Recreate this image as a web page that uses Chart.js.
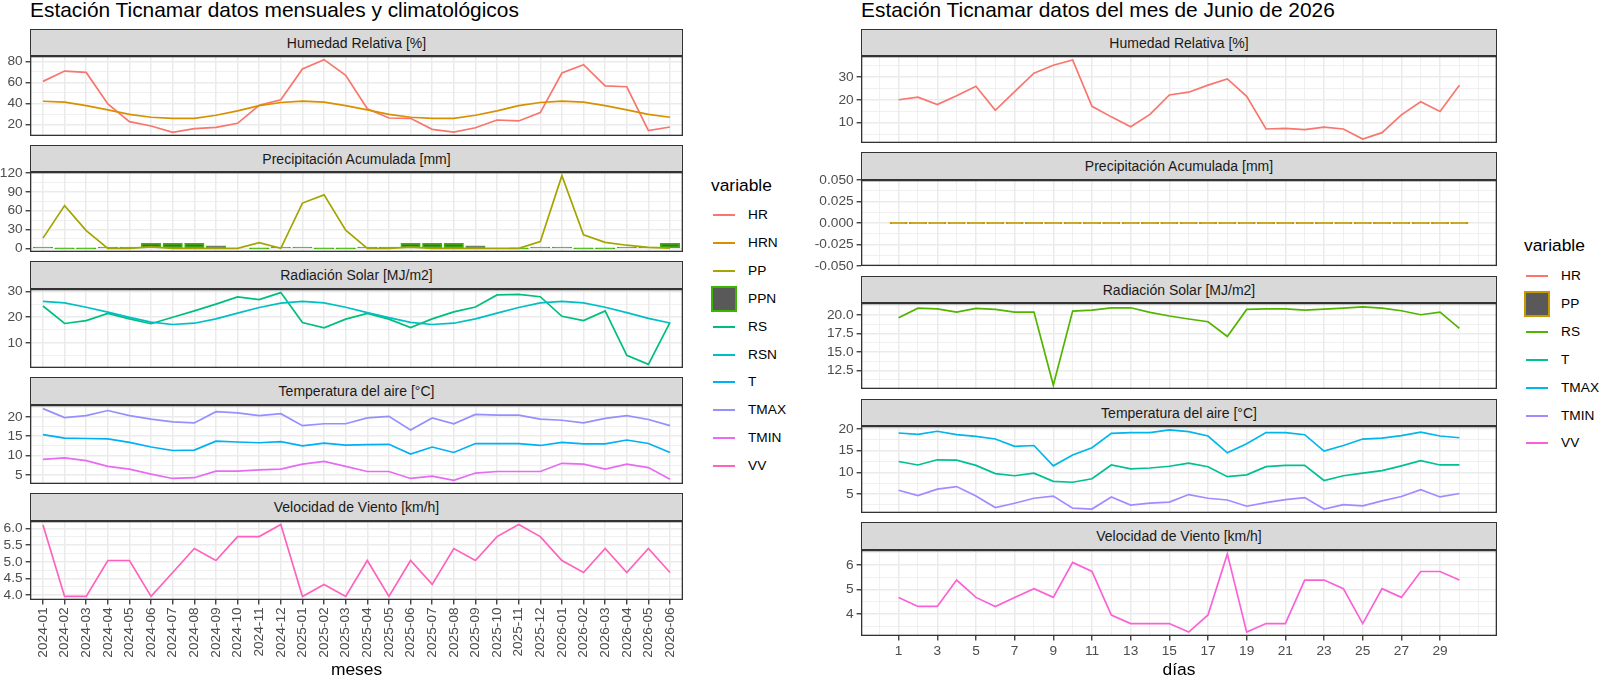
<!DOCTYPE html>
<html><head><meta charset="utf-8">
<script src="https://cdn.jsdelivr.net/npm/chart.js@4.4.1/dist/chart.umd.min.js"></script>
<style>
html,body{margin:0;padding:0;background:#fff;}
body{width:1600px;height:676px;position:relative;overflow:hidden;font-family:"Liberation Sans",Arial,Helvetica,sans-serif;}
.strip{position:absolute;box-sizing:border-box;background:#D9D9D9;border:1.3px solid #333;font-size:14px;color:#1A1A1A;display:flex;align-items:center;justify-content:center;z-index:2;}
.ptitle{position:absolute;font-size:20.9px;line-height:21px;color:#000;white-space:nowrap;}
.ltitle{position:absolute;font-size:17.4px;line-height:20px;color:#000;white-space:nowrap;}
.llab{position:absolute;font-size:13.7px;line-height:16px;color:#000;white-space:nowrap;}
.lline{position:absolute;height:2px;width:22px;}
.lbox{position:absolute;width:26px;height:26px;box-sizing:border-box;background:#595959;border:2px solid;}
</style></head><body>
<script>
// ---------------- DATA ----------------
const MONTHS = ['2024-01','2024-02','2024-03','2024-04','2024-05','2024-06','2024-07','2024-08','2024-09','2024-10','2024-11','2024-12',
                '2025-01','2025-02','2025-03','2025-04','2025-05','2025-06','2025-07','2025-08','2025-09','2025-10','2025-11','2025-12',
                '2026-01','2026-02','2026-03','2026-04','2026-05','2026-06'];
const L_HR   = [61, 70.8, 69.5, 39.7, 22.9, 18.7, 12.7, 16.2, 17.5, 21.3, 38.4, 43.5, 72.7, 81.6, 66.7, 35, 26.3, 26, 15.6, 13, 17.1, 24.4, 23.5, 31.4, 68.9, 76.8, 56.8, 55.9, 14.3, 17.8];
const L_HRN  = [42.2, 41.3, 38, 34, 29.8, 27, 26, 26, 28.9, 33, 38, 41, 42.2, 41.3, 38, 34, 29.8, 27, 26, 26, 28.9, 33, 38, 41, 42.2, 41.3, 38, 34, 29.8, 27];
const L_PP   = [16.3, 68, 28.3, 0, 0, 2.5, 0, 0, 0, 0, 9, 0, 72, 85, 29, 0, 0, 2, 0, 0, 0, 0, 0, 10.7, 115.6, 21.5, 9.5, 5, 1.5, 0.5];
const L_PPN  = [1.6, 0, 0, 1, 1.6, 8.1, 8.1, 8.1, 4.2, null, 0, 0.5, 1.6, 0, 0, 1, 1.6, 8.1, 8.1, 8.1, 4.2, null, 0, 0.5, 1.6, 0, 0, 1, 1.6, 8.1];
const L_RS   = [24.3, 17.5, 18.6, 21.4, 19.3, 17.4, 19.9, 22.4, 25, 27.8, 26.8, 29.5, 17.9, 15.8, 19.2, 21.4, 19.2, 15.9, 19.3, 22, 23.9, 28.6, 28.8, 27.9, 20.3, 18.6, 22.4, 5.1, 1.6, 17.9];
const L_RSN  = [26.1, 25.5, 23.8, 21.9, 19.9, 18, 17.1, 17.6, 19.3, 21.5, 23.7, 25.4, 26.1, 25.5, 23.8, 21.7, 19.8, 17.9, 17.1, 17.6, 19.3, 21.5, 23.7, 25.5, 26.1, 25.5, 23.8, 21.7, 19.5, 17.7];
const L_TMAX = [22.1, 19.8, 20.3, 21.6, 20.3, 19.4, 18.7, 18.4, 21.3, 21, 20.3, 20.8, 17.7, 18.2, 18.2, 19.7, 20.1, 16.6, 19.7, 18.2, 20.6, 20.4, 20.4, 19.4, 19.1, 18.4, 19.6, 20.3, 19.3, 17.7];
const L_T    = [15.4, 14.5, 14.4, 14.3, 13.4, 12.2, 11.3, 11.4, 13.7, 13.5, 13.3, 13.6, 12.5, 13.2, 12.7, 12.8, 12.9, 10.4, 12.2, 10.8, 13.1, 13.1, 13.1, 12.6, 13.4, 13, 13, 14, 13.1, 10.8];
const L_TMIN = [9, 9.4, 8.7, 7.2, 6.5, 5.2, 4.1, 4.3, 6, 6, 6.3, 6.5, 7.8, 8.5, 7.2, 5.9, 5.9, 4.1, 4.7, 3.6, 5.5, 5.9, 5.9, 5.9, 8, 7.8, 6.5, 7.8, 6.9, 3.9];
const L_VV   = [6.11, 3.96, 3.96, 5.04, 5.04, 3.96, 4.68, 5.4, 5.04, 5.76, 5.76, 6.12, 3.96, 4.32, 3.96, 5.04, 3.96, 5.04, 4.32, 5.4, 5.04, 5.76, 6.12, 5.76, 5.04, 4.68, 5.4, 4.68, 5.4, 4.68];

const DAYS   = [1,2,3,4,5,6,7,8,9,10,11,12,13,14,15,16,17,18,19,20,21,22,23,24,25,26,27,28,29,30];
const R_HR   = [20, 21.1, 17.9, 21.7, 25.9, 15.4, 23.5, 31.6, 35.1, 37.4, 17.1, 12.5, 8.2, 13.6, 22.1, 23.3, 26.4, 29.1, 21.5, 7.2, 7.5, 6.9, 8, 7.2, 2.8, 5.6, 13.4, 19.1, 14.9, 26.3];
const R_PP   = [0,0,0,0,0,0,0,0,0,0,0,0,0,0,0,0,0,0,0,0,0,0,0,0,0,0,0,0,0,0];
const R_RS   = [19.64, 20.93, 20.84, 20.4, 20.9, 20.76, 20.4, 20.4, 10.53, 20.53, 20.67, 20.98, 20.98, 20.36, 19.87, 19.47, 19.1, 17.1, 20.76, 20.84, 20.84, 20.67, 20.8, 20.93, 21.1, 20.93, 20.58, 20.04, 20.4, 18.2];
const R_TMAX = [19.1, 18.8, 19.5, 18.7, 18.3, 17.7, 16, 16.2, 11.5, 14, 15.7, 19, 19.2, 19.2, 19.8, 19.4, 18.4, 14.5, 16.6, 19.2, 19.2, 18.7, 14.9, 16.2, 17.7, 17.9, 18.5, 19.3, 18.4, 18];
const R_T    = [12.5, 11.7, 12.9, 12.8, 11.6, 9.7, 9.2, 9.8, 7.9, 7.7, 8.5, 11.7, 10.8, 11, 11.4, 12.1, 11.3, 9, 9.4, 11.3, 11.6, 11.6, 8.1, 9.2, 9.8, 10.4, 11.5, 12.7, 11.7, 11.7];
const R_TMIN = [5.85, 4.6, 6.1, 6.7, 4.5, 1.85, 2.85, 4, 4.5, 1.7, 1.5, 4.3, 2.4, 2.85, 3.1, 4.85, 4, 3.6, 2.15, 3, 3.7, 4.15, 1.5, 2.5, 2.25, 3.4, 4.4, 6, 4.3, 5.1];
const R_VV   = [4.68, 4.31, 4.31, 5.39, 4.68, 4.31, 4.68, 5.04, 4.68, 6.11, 5.74, 3.96, 3.61, 3.61, 3.61, 3.26, 3.96, 6.46, 3.26, 3.61, 3.61, 5.39, 5.39, 5.04, 3.61, 5.04, 4.68, 5.74, 5.74, 5.39];

// tick labels
const L_HR_TICKS = [20,40,60,80];
const L_PP_TICKS = [0,30,60,90,120];
const L_RS_TICKS = [10,20,30];
const L_T_TICKS  = [5,10,15,20];
const L_VV_TICKS = [4.0,4.5,5.0,5.5,6.0];
const R_HR_TICKS = [10,20,30];
const R_PP_TICKS = [-0.05,-0.025,0,0.025,0.05];
const R_RS_TICKS = [12.5,15,17.5,20];
const R_T_TICKS  = [5,10,15,20];
const R_VV_TICKS = [4,5,6];
const R_DAY_TICKS = [1,3,5,7,9,11,13,15,17,19,21,23,25,27,29];

const TITLE_L = 'Estación Ticnamar datos mensuales y climatológicos';
const TITLE_R = 'Estación Ticnamar datos del mes de Junio de 2026';
const STRIPS_L = ['Humedad Relativa [%]','Precipitación Acumulada [mm]','Radiación Solar [MJ/m2]','Temperatura del aire [°C]','Velocidad de Viento [km/h]'];
const STRIPS_R = STRIPS_L;
const LEG_L = ['HR','HRN','PP','PPN','RS','RSN','T','TMAX','TMIN','VV'];
const LEG_R = ['HR','PP','RS','T','TMAX','TMIN','VV'];

// ---------------- STYLE ----------------
const FONT = '"Liberation Sans", Arial, Helvetica, sans-serif';
Chart.defaults.font.family = FONT;
const INK = '#333333', TXT = '#4D4D4D', GRID = '#EBEBEB', BARFILL = '#595959';
const COL_L = {HR:'#F8766D',HRN:'#D89000',PP:'#A3A500',PPN:'#39B600',RS:'#00BF7D',RSN:'#00BFC4',T:'#00B0F6',TMAX:'#9590FF',TMIN:'#E76BF3',VV:'#FF62BC'};
const COL_R = {HR:'#F8766D',PP:'#C49A00',RS:'#53B400',T:'#00C094',TMAX:'#00B6EB',TMIN:'#A58AFF',VV:'#FB61D7'};
const LW = 1.7;

const LAY = {
  L:{cL:0,   pL:30,  pR:683,  top0:29, stripH:27.3, panelH:79.2, cycle:116.1},
  R:{cL:790, pL:861, pR:1497, top0:29, stripH:27.3, panelH:86.3, cycle:123.3}
};

function expandRange(arrs){
  const all = [].concat(...arrs).filter(v => v !== null && v !== undefined);
  const lo = Math.min(...all), hi = Math.max(...all);
  if (hi - lo === 0) return [lo - 0.05, hi + 0.05];
  const d = (hi - lo) * 0.05;
  return [lo - d, hi + d];
}
function gridTicks(min, max, majors){
  const step = majors[1] - majors[0];
  const ext = [majors[0] - step, ...majors, majors[majors.length-1] + step];
  const eps = (max - min) * 1e-6;
  const inR = v => v >= min - eps && v <= max + eps;
  const out = [];
  ext.forEach((v, i) => {
    const isEnd = (i === 0 || i === ext.length - 1);
    if (inR(v)) out.push({value: v, isMaj: !isEnd});
    if (i < ext.length - 1) { const m = (v + ext[i+1]) / 2; if (inR(m)) out.push({value: m, isMaj: false}); }
  });
  return out.sort((a, b) => a.value - b.value);
}
const borderPlugin = {
  id: 'panelBorder',
  afterDatasetsDraw(c){
    const a = c.chartArea, x = c.ctx;
    x.save(); x.strokeStyle = INK; x.lineWidth = 1.3;
    x.strokeRect(a.left + 0.65, a.top + 0.65, a.right - a.left - 1.3, a.bottom - a.top - 1.3);
    x.restore();
  }
};
function lineDS(xs, ys, color){
  return {type:'line', data: xs.map((x, i) => ({x: x, y: ys[i]})), borderColor: color, backgroundColor: color,
          borderWidth: LW, pointRadius: 0, tension: 0, fill: false};
}
function barDS(xs, ys, border){
  return {type:'bar', data: xs.map((x, i) => ({x: x, y: ys[i]})), borderColor: border,
          // a bar thinner than its outline shows only the outline colour
          backgroundColor: ctx => {
            const ys = ctx.chart.scales.y, r = ctx.raw;
            if (!r || r.y === null || !ys) return BARFILL;
            const h = Math.abs(ys.getPixelForValue(r.y) - ys.getPixelForValue(0));
            return h < LW * 1.5 ? border : BARFILL;
          },
          borderWidth: LW, borderSkipped: false, barPercentage: 0.9, categoryPercentage: 1.0,
          minBarLength: 1.2, inflateAmount: 0.3};
}

function addPanel(o){
  const S = LAY[o.side];
  const sTop = Math.round(S.top0 + o.k * S.cycle);
  const pTop = Math.round(S.top0 + S.stripH + o.k * S.cycle);
  const pBot = Math.round(S.top0 + S.stripH + S.panelH + o.k * S.cycle);
  const st = document.createElement('div');
  st.className = 'strip';
  st.style.left = S.pL + 'px'; st.style.top = sTop + 'px';
  st.style.width = (S.pR - S.pL) + 'px'; st.style.height = (pTop - sTop) + 'px';
  st.textContent = o.strip;
  document.body.appendChild(st);

  const PADT = 12, PADR = 12;
  const cTop = pTop - PADT;
  const cBot = o.bottom ? 688 : pBot + 12;
  const padB = o.bottom ? 2 : 12;
  const box = document.createElement('div');
  box.style.cssText = `position:absolute;left:${S.cL}px;top:${cTop}px;width:${S.pR + PADR - S.cL}px;height:${cBot - cTop}px;z-index:1;`;
  const cv = document.createElement('canvas');
  box.appendChild(cv); document.body.appendChild(box);

  const [ymin, ymax] = o.range;
  const yt = gridTicks(ymin, ymax, o.yMajors);
  const xt = o.xTicks;
  const majC = (c, on, off) => (c.tick && c.tick.isMaj) ? on : off;

  new Chart(cv, {
    type: 'line',
    data: {datasets: o.datasets},
    options: {
      responsive: true, maintainAspectRatio: false, animation: false, events: [],
      layout: {padding: {left: 0, top: PADT, right: PADR, bottom: padB}},
      plugins: {legend: {display: false}, tooltip: {enabled: false}, title: {display: false}},
      scales: {
        x: {
          type: 'linear', min: o.xMin, max: o.xMax, offset: false,
          afterBuildTicks: s => { s.ticks = xt.map(t => Object.assign({}, t)); },
          afterFit: s => { s.height = o.bottom ? (cBot - padB - pBot) : 0; s.paddingLeft = 0; s.paddingRight = 0; },
          border: {display: false},
          grid: {offset: false, drawTicks: !!o.bottom, tickLength: 4.4, tickWidth: 1.3,
                 color: GRID, lineWidth: c => majC(c, 1.5, 0.75),
                 tickColor: c => majC(c, INK, 'rgba(0,0,0,0)')},
          ticks: {display: !!o.bottom, autoSkip: false, maxRotation: o.rot || 0, minRotation: o.rot || 0,
                  padding: 3, color: TXT, font: {size: 13.7},
                  callback: (v, i, ticks) => o.xLabel(ticks[i])},
          title: {display: !!o.bottom, text: o.xTitle || '', color: '#000', font: {size: 17.4}, padding: {top: 0, bottom: 5}}
        },
        y: {
          type: 'linear', min: ymin, max: ymax,
          afterBuildTicks: s => { s.ticks = yt.map(t => Object.assign({}, t)); },
          afterFit: s => { s.width = S.pL - S.cL; s.paddingTop = 0; s.paddingBottom = 0; },
          border: {display: false},
          grid: {drawTicks: true, tickLength: 4.4, tickWidth: 1.3,
                 color: GRID, lineWidth: c => majC(c, 1.5, 0.75),
                 tickColor: c => majC(c, INK, 'rgba(0,0,0,0)')},
          ticks: {autoSkip: false, padding: 3, color: TXT, font: {size: 13.7},
                  callback: (v, i, ticks) => ticks[i].isMaj ? ticks[i].value.toFixed(o.dec) : ''}
        }
      }
    },
    plugins: [borderPlugin]
  });
}

// ---------- titles ----------
function addText(cls, txt, left, top){ const d = document.createElement('div'); d.className = cls; d.textContent = txt; d.style.left = left + 'px'; d.style.top = top + 'px'; document.body.appendChild(d); return d; }
addText('ptitle', TITLE_L, 30, -1);
addText('ptitle', TITLE_R, 861, -1);

// ---------- left facets ----------
const LX = MONTHS.map((m, i) => i + 1);
const LXT = LX.map(v => ({value: v, isMaj: true}));
const leftCommon = {side: 'L', xMin: 0.4, xMax: MONTHS.length + 0.6, xTicks: LXT, xLabel: t => MONTHS[t.value - 1], rot: 90, xTitle: 'meses'};
addPanel(Object.assign({}, leftCommon, {k: 0, strip: STRIPS_L[0], range: expandRange([L_HR, L_HRN]), yMajors: L_HR_TICKS, dec: 0,
  datasets: [lineDS(LX, L_HRN, COL_L.HRN), lineDS(LX, L_HR, COL_L.HR)]}));
addPanel(Object.assign({}, leftCommon, {k: 1, strip: STRIPS_L[1], range: expandRange([L_PP, L_PPN, [0]]), yMajors: L_PP_TICKS, dec: 0,
  datasets: [lineDS(LX, L_PP, COL_L.PP), barDS(LX, L_PPN, COL_L.PPN)]}));
addPanel(Object.assign({}, leftCommon, {k: 2, strip: STRIPS_L[2], range: expandRange([L_RS, L_RSN]), yMajors: L_RS_TICKS, dec: 0,
  datasets: [lineDS(LX, L_RSN, COL_L.RSN), lineDS(LX, L_RS, COL_L.RS)]}));
addPanel(Object.assign({}, leftCommon, {k: 3, strip: STRIPS_L[3], range: expandRange([L_T, L_TMAX, L_TMIN]), yMajors: L_T_TICKS, dec: 0,
  datasets: [lineDS(LX, L_TMIN, COL_L.TMIN), lineDS(LX, L_TMAX, COL_L.TMAX), lineDS(LX, L_T, COL_L.T)]}));
addPanel(Object.assign({}, leftCommon, {k: 4, strip: STRIPS_L[4], range: expandRange([L_VV]), yMajors: L_VV_TICKS, dec: 1, bottom: true,
  datasets: [lineDS(LX, L_VV, COL_L.VV)]}));

// ---------- right facets ----------
const rx0 = DAYS[0] - 0.45, rx1 = DAYS[DAYS.length - 1] + 0.45, rpad = (rx1 - rx0) * 0.05;
const RXT = gridTicks(rx0 - rpad, rx1 + rpad, R_DAY_TICKS);
const rightCommon = {side: 'R', xMin: rx0 - rpad, xMax: rx1 + rpad, xTicks: RXT, xLabel: t => t.isMaj ? String(t.value) : '', rot: 0, xTitle: 'días'};
addPanel(Object.assign({}, rightCommon, {k: 0, strip: STRIPS_R[0], range: expandRange([R_HR]), yMajors: R_HR_TICKS, dec: 0,
  datasets: [lineDS(DAYS, R_HR, COL_R.HR)]}));
addPanel(Object.assign({}, rightCommon, {k: 1, strip: STRIPS_R[1], range: expandRange([R_PP]), yMajors: R_PP_TICKS, dec: 3,
  datasets: [barDS(DAYS, R_PP, COL_R.PP)]}));
addPanel(Object.assign({}, rightCommon, {k: 2, strip: STRIPS_R[2], range: expandRange([R_RS]), yMajors: R_RS_TICKS, dec: 1,
  datasets: [lineDS(DAYS, R_RS, COL_R.RS)]}));
addPanel(Object.assign({}, rightCommon, {k: 3, strip: STRIPS_R[3], range: expandRange([R_T, R_TMAX, R_TMIN]), yMajors: R_T_TICKS, dec: 0,
  datasets: [lineDS(DAYS, R_TMIN, COL_R.TMIN), lineDS(DAYS, R_TMAX, COL_R.TMAX), lineDS(DAYS, R_T, COL_R.T)]}));
addPanel(Object.assign({}, rightCommon, {k: 4, strip: STRIPS_R[4], range: expandRange([R_VV]), yMajors: R_VV_TICKS, dec: 0, bottom: true,
  datasets: [lineDS(DAYS, R_VV, COL_R.VV)]}));

// ---------- legends ----------
function addLegend(x0, titleCY, firstCY, names, cols, boxName){
  addText('ltitle', 'variable', x0, titleCY - 10);
  names.forEach((n, k) => {
    const cy = Math.round(firstCY + k * 27.9);
    if (n === boxName) {
      const b = document.createElement('div'); b.className = 'lbox';
      b.style.left = x0 + 'px'; b.style.top = (cy - 13) + 'px'; b.style.borderColor = cols[n];
      document.body.appendChild(b);
    } else {
      const l = document.createElement('div'); l.className = 'lline';
      l.style.left = (x0 + 2) + 'px'; l.style.top = (cy - 1) + 'px'; l.style.backgroundColor = cols[n];
      document.body.appendChild(l);
    }
    addText('llab', n, x0 + 37, cy - 8);
  });
}
addLegend(711, 185, 215, LEG_L, COL_L, 'PPN');
addLegend(1524, 245, 276, LEG_R, COL_R, 'PP');
</script>
</body></html>
